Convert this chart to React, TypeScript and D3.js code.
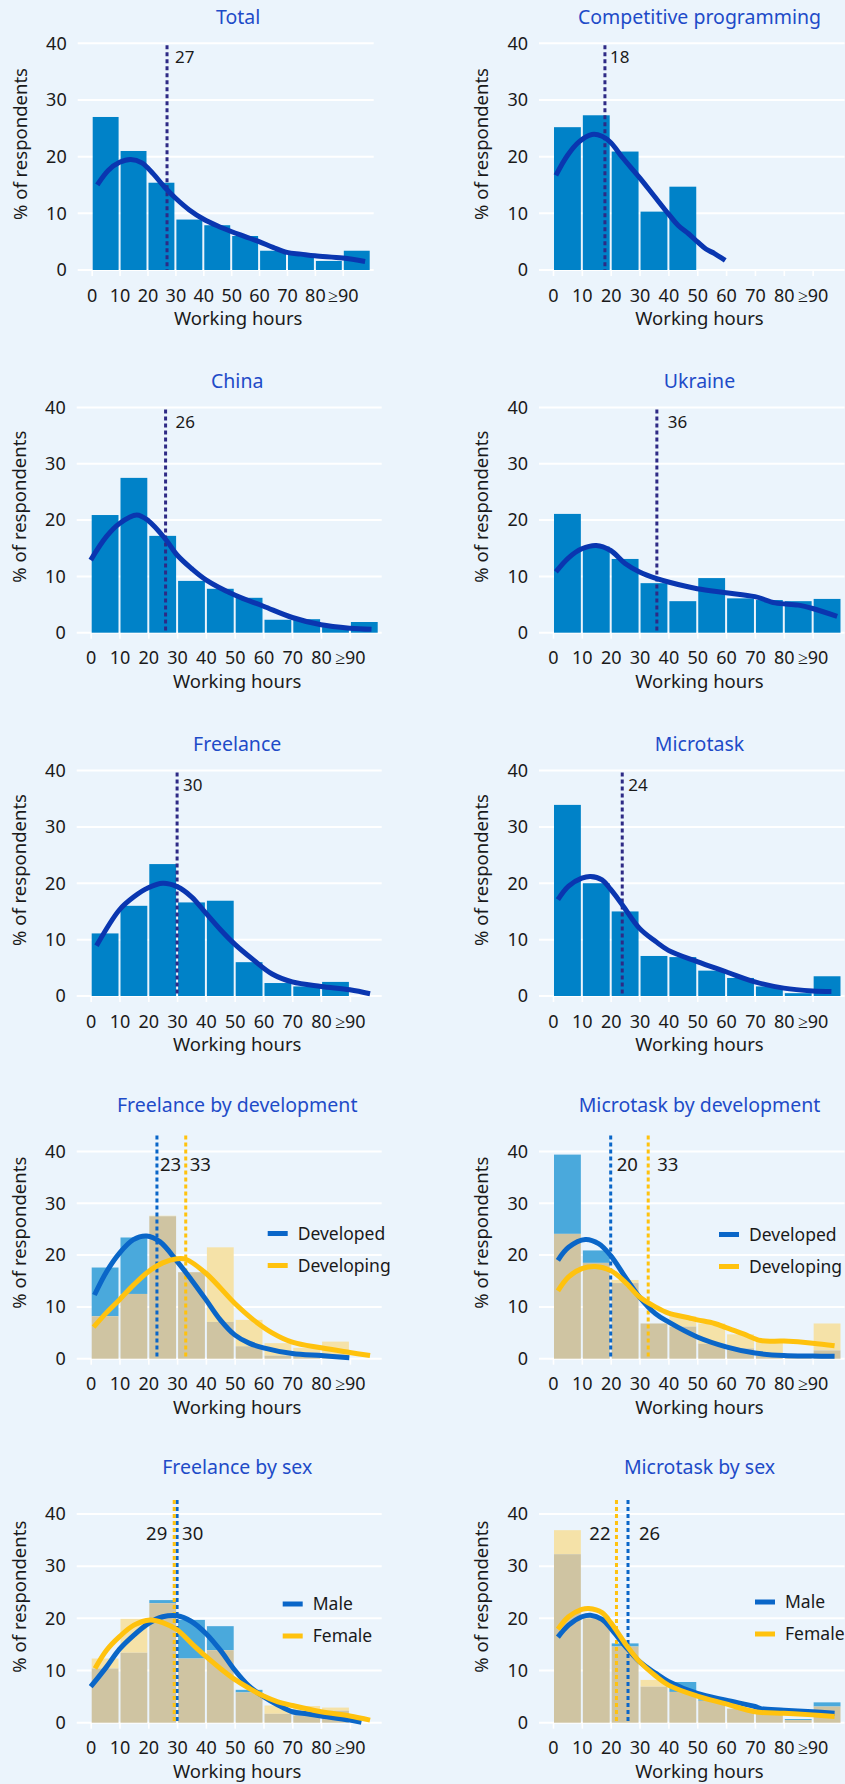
import React, { useEffect, useRef } from "react";
import * as d3 from "d3";

// bins and ticks
const binStarts = [0, 10, 20, 30, 40, 50, 60, 70, 80, 90];
const binLabels = ["0", "10", "20", "30", "40", "50", "60", "70", "80", "≥90"];
const yTicks = [0, 10, 20, 30, 40];

// single-series panels: bar % per bin, smoothed curve [hours, %], median hours
const totalBars = [27, 21, 15.4, 8.9, 7.9, 6.0, 3.4, 2.7, 1.6, 3.4];
const totalCurve = [[2, 15], [6, 17.6], [10, 19.0], [14, 19.5], [18, 18.9], [22, 17.0], [26, 14.7], [30, 12.7], [35, 10.6], [40, 9.0], [45, 7.8], [50, 6.8], [55, 5.9], [60, 5.0], [65, 4.0], [70, 3.1], [75, 2.8], [80, 2.5], [90, 2.1], [98, 1.5]];
const totalMedian = 27;

const compBars = [25.2, 27.3, 20.9, 10.3, 14.7, 0, 0, 0, 0, 0];
const compCurve = [[1, 16.7], [5, 20.2], [9, 22.6], [13.5, 23.9], [17, 23.6], [20, 22.5], [24, 19.9], [30, 16.3], [35, 13.1], [40, 9.9], [43.5, 7.8], [47, 6.4], [50, 5.0], [53, 3.7], [56, 2.9], [59.7, 1.7]];
const compMedian = 18;

const chinaBars = [20.9, 27.5, 17.2, 9.2, 7.8, 6.2, 2.3, 2.4, 1.0, 1.9];
const chinaCurve = [[0, 12.9], [5.5, 17.1], [10, 19.4], [16, 20.9], [20, 19.9], [26, 16.6], [30, 13.8], [35, 11.4], [40, 9.4], [50, 6.7], [60, 4.7], [70, 2.7], [80, 1.4], [90, 0.8], [97.5, 0.6]];
const chinaMedian = 26;

const ukraineBars = [21.1, 15.3, 13.1, 8.8, 5.6, 9.7, 6.1, 5.8, 5.6, 6.0];
const ukraineCurve = [[1, 10.8], [5.4, 13.3], [10, 14.9], [15, 15.5], [20, 14.6], [25, 12.3], [30, 10.8], [36, 9.6], [40, 9.0], [50, 7.8], [60, 7.1], [70, 6.4], [77, 5.3], [85, 4.9], [90, 4.3], [98.5, 2.9]];
const ukraineMedian = 36;

const freelanceBars = [11.1, 16.0, 23.4, 16.6, 16.9, 6.0, 2.3, 1.7, 2.5, 0];
const freelanceCurve = [[2, 8.9], [10, 15.3], [15, 17.6], [20, 19.2], [25, 20.0], [30, 19.4], [35, 17.6], [40, 14.7], [45, 11.8], [50, 9.2], [56.5, 6.4], [63, 3.9], [70, 2.5], [80, 1.7], [90, 1.1], [97, 0.4]];
const freelanceMedian = 30;

const microBars = [33.9, 20.0, 15.0, 7.1, 6.9, 4.5, 3.2, 1.7, 0.5, 3.5];
const microCurve = [[1.7, 17.1], [5.4, 19.5], [10, 20.9], [13, 21.2], [17, 20.6], [20, 18.9], [24, 16.2], [30, 12.0], [35.5, 9.7], [40, 8.1], [50, 6.1], [60, 4.3], [70, 2.5], [80, 1.4], [90, 0.9], [96.5, 0.8]];
const microMedian = 24;

// two-series panels
const devNames = ["Developed", "Developing"];
const sexNames = ["Male", "Female"];

const fdevDeveloped = [17.6, 23.4, 27.5, 16.7, 7.1, 2.4, 0.6, 1.2, 0.8, 0];
const fdevDeveloping = [8.2, 12.5, 27.6, 16.7, 21.5, 7.5, 3.0, 2.1, 3.3, 0];
const fdevDevelopedCurve = [[1.3, 12.3], [5.5, 16.8], [10, 20.4], [14.8, 23.0], [19.4, 23.7], [24, 22.6], [30, 18.8], [35, 15.2], [40, 11.4], [45, 7.5], [50, 4.6], [55, 3.0], [60, 2.1], [70, 1.0], [80, 0.6], [89.8, 0.2]];
const fdevDevelopingCurve = [[1, 6.1], [5.5, 8.9], [10, 11.4], [15, 14.3], [20, 16.8], [25, 18.5], [30, 19.3], [33, 19.2], [40, 16.5], [50, 10.7], [56.5, 7.5], [63, 5.0], [70, 3.2], [80, 2.1], [90, 1.2], [97, 0.6]];
const fdevMedians = [23, 33];

const mdevDeveloped = [39.4, 20.9, 14.6, 6.8, 6.2, 2.9, 2.0, 0.6, 0.4, 1.6];
const mdevDeveloping = [24.1, 18.5, 15.2, 6.8, 8.2, 6.8, 4.7, 3.2, 0.9, 6.8];
const mdevDevelopedCurve = [[1.7, 19.0], [5.4, 21.5], [11.2, 23.0], [15.8, 22.2], [20, 19.9], [25, 15.8], [30, 11.9], [35.5, 8.7], [40, 7.1], [50, 4.2], [60, 2.3], [70, 1.1], [80, 0.6], [90, 0.5], [97.6, 0.45]];
const mdevDevelopingCurve = [[1.7, 13.1], [5.4, 15.8], [10, 17.4], [14.7, 17.8], [20, 17.0], [25, 14.8], [30, 11.9], [35.5, 10.0], [40, 8.8], [47, 7.9], [50, 7.5], [56, 6.8], [60, 6.0], [66, 4.8], [72, 3.5], [80, 3.4], [90, 3.0], [97.6, 2.5]];
const mdevMedians = [20, 33];

const fsexMale = [10.4, 13.4, 23.5, 19.7, 18.5, 6.3, 1.7, 1.4, 2.3, 0];
const fsexFemale = [12.3, 19.9, 22.9, 12.3, 13.9, 5.8, 3.3, 3.2, 2.9, 0];
const fsexMaleCurve = [[0, 6.9], [5.5, 10.7], [10, 14.1], [15, 16.8], [20, 19.0], [25, 20.3], [30, 20.5], [35, 19.4], [40, 17.1], [45, 13.9], [50, 10.1], [55, 7.0], [60, 5.0], [65, 3.4], [70, 2.1], [75, 1.7], [80, 1.3], [90, 0.5], [94, 0.1]];
const fsexFemaleCurve = [[1.5, 10.4], [5.5, 13.9], [10, 16.5], [15, 18.7], [20.6, 19.7], [25, 19.2], [30, 17.8], [35, 15.2], [40, 12.7], [45, 10.4], [50, 8.3], [55, 6.6], [60, 5.1], [65, 4.0], [70, 3.3], [80, 2.1], [90, 1.3], [97, 0.5]];
const fsexMedians = [30, 29];

const msexMale = [32.3, 20.0, 15.2, 6.9, 7.8, 4.5, 2.7, 1.8, 0.7, 3.9];
const msexFemale = [36.9, 20.3, 14.6, 8.2, 5.9, 4.2, 2.7, 1.8, 0.5, 3.1];
const msexMaleCurve = [[1.7, 16.4], [5.4, 18.7], [10, 20.3], [13, 20.6], [17, 19.8], [20, 18.1], [25, 14.7], [30, 11.7], [35.5, 9.5], [40, 7.9], [50, 5.6], [60, 4.3], [70, 3.1], [72, 2.7], [80, 2.4], [90, 2.1], [97.6, 1.8]];
const msexFemaleCurve = [[1.7, 17.9], [5.4, 20.3], [10, 21.7], [12.4, 21.9], [17, 21.1], [20, 19.2], [25, 15.2], [30, 11.7], [35.5, 9.0], [40, 7.2], [50, 5.1], [60, 3.6], [70, 2.1], [80, 1.8], [90, 1.5], [97.6, 1.2]];
const msexMedians = [26, 22];

const FONT = "Noto Sans";
const BG = "#ebf4fc";
const TITLE = "#1e4bc8";
const INK = "#1a1a1a";
const BAR = "#0082c8";
const CURVE = "#0a36b0";
const MEDIAN = "#2e2a85";
const BLUE = "#0a66c8";
const YELLOW = "#ffc20e";
const BLUE_LIGHT = "#4aa9dc";
const YELLOW_LIGHT = "#f5e2a8";
const TAN = "#cfc4a2";

const W = 845;
const H = 1784;

// row layout: y of 40% line and 0% line
const rowTop = [43.3, 407.5, 770.5, 1151.5, 1514];
const rowBase = [270, 632.7, 996, 1358.7, 1722.7];

const App = () => {
  const ref = useRef<SVGSVGElement>(null);

  useEffect(() => {
    document.body.style.margin = "0";
    const svg = d3.select(ref.current);
    svg.selectAll("*").remove();
    svg.append("rect").attr("width", W).attr("height", H).attr("fill", BG);

    const panels: any[] = [
      { title: "Total", row: 0, col: 0, bars: totalBars, curve: totalCurve, median: totalMedian, gap: 8 },
      { title: "Competitive programming", row: 0, col: 1, bars: compBars, curve: compCurve, median: compMedian, gap: 5 },
      { title: "China", row: 1, col: 0, bars: chinaBars, curve: chinaCurve, median: chinaMedian, gap: 10 },
      { title: "Ukraine", row: 1, col: 1, bars: ukraineBars, curve: ukraineCurve, median: ukraineMedian, gap: 11 },
      { title: "Freelance", row: 2, col: 0, bars: freelanceBars, curve: freelanceCurve, median: freelanceMedian, gap: 6 },
      { title: "Microtask", row: 2, col: 1, bars: microBars, curve: microCurve, median: microMedian, gap: 6 },
      {
        title: "Freelance by development", row: 3, col: 0, names: devNames,
        barsA: fdevDeveloped, barsB: fdevDeveloping, curveA: fdevDevelopedCurve, curveB: fdevDevelopingCurve,
        medians: fdevMedians, sides: ["start", "start"], gaps: [3, 4], legend: [177, 82],
      },
      {
        title: "Microtask by development", row: 3, col: 1, names: devNames,
        barsA: mdevDeveloped, barsB: mdevDeveloping, curveA: mdevDevelopedCurve, curveB: mdevDevelopingCurve,
        medians: mdevMedians, sides: ["start", "start"], gaps: [6, 9], legend: [166, 83],
      },
      {
        title: "Freelance by sex", row: 4, col: 0, names: sexNames,
        barsA: fsexMale, barsB: fsexFemale, curveA: fsexMaleCurve, curveB: fsexFemaleCurve,
        medians: fsexMedians, sides: ["start", "end"], gaps: [5, 7], legend: [192, 90],
      },
      {
        title: "Microtask by sex", row: 4, col: 1, names: sexNames,
        barsA: msexMale, barsB: msexFemale, curveA: msexMaleCurve, curveB: msexFemaleCurve,
        medians: msexMedians, sides: ["start", "end"], gaps: [11, 6], legend: [202, 88],
      },
    ];

    panels.forEach((p) => {
      const x0 = p.col === 1 ? 553 : p.row === 0 ? 91.7 : 90.7;
      const pw = p.col === 1 ? 288.5 : p.row === 0 ? 279 : 288;
      const yTop = rowTop[p.row];
      const yBase = rowBase[p.row];
      const dual = !!p.barsA;
      const g = svg.append("g").attr("font-family", FONT);

      const x = d3.scaleLinear().domain([0, 100]).range([x0, x0 + pw]);
      const y = d3.scaleLinear().domain([0, 40]).range([yBase, yTop]);
      const cx = x0 + 146.5;

      // title
      g.append("text")
        .attr("x", cx)
        .attr("y", yTop - (dual ? 40 : 19.5))
        .attr("text-anchor", "middle")
        .attr("fill", TITLE)
        .attr("font-size", 19.5)
        .text(p.title);

      // grid
      g.append("g")
        .selectAll("line")
        .data(yTicks)
        .enter()
        .append("line")
        .attr("x1", x0 - 14)
        .attr("x2", Math.min(x0 + pw + 3, W))
        .attr("y1", (d) => y(d))
        .attr("y2", (d) => y(d))
        .attr("stroke", "#fff")
        .attr("stroke-width", 2);

      // y axis
      const ya = g
        .append("g")
        .attr("transform", `translate(${x0 - 14},0)`)
        .call(d3.axisLeft(y).tickValues(yTicks).tickSize(0).tickPadding(11));
      ya.select(".domain").remove();
      ya.attr("font-family", FONT).attr("font-size", 18).attr("color", INK);

      // x axis
      const xa = g
        .append("g")
        .attr("transform", `translate(0,${yBase})`)
        .call(
          d3
            .axisBottom(x)
            .tickValues(binStarts)
            // @ts-ignore
            .tickFormat((d, i) => binLabels[i])
            .tickSize(6)
            .tickPadding(13)
        );
      xa.select(".domain").remove();
      xa.attr("font-family", FONT).attr("font-size", 18).attr("color", INK);
      xa.selectAll("line").attr("stroke", "#fff").attr("stroke-width", 1.6);

      // axis titles
      g.append("text")
        .attr("x", cx)
        .attr("y", yBase + 55)
        .attr("text-anchor", "middle")
        .attr("fill", INK)
        .attr("font-size", 18.5)
        .text("Working hours");
      g.append("text")
        .attr("transform", `translate(${x0 - 71},${yBase - 126}) rotate(-90)`)
        .attr("text-anchor", "middle")
        .attr("dy", "0.35em")
        .attr("fill", INK)
        .attr("font-size", 18.5)
        .text("% of respondents");

      const bx = (i: number) => x(binStarts[i]) + 1;
      const bw = (i: number) => x(binStarts[i] + 10) - x(binStarts[i]) - 2;
      const line = d3
        .line()
        .x((d) => x(d[0]))
        .y((d) => y(d[1]))
        .curve(d3.curveCatmullRom.alpha(0.5));

      if (!dual) {
        const bins = (p.bars as number[]).map((v, i) => ({ i, v })).filter((d) => d.v > 0);
        g.append("g")
          .selectAll("rect")
          .data(bins)
          .enter()
          .append("rect")
          .attr("x", (d) => bx(d.i))
          .attr("width", (d) => bw(d.i))
          .attr("y", (d) => y(d.v))
          .attr("height", (d) => yBase - y(d.v))
          .attr("fill", BAR);

        g.append("line")
          .attr("x1", x(p.median))
          .attr("x2", x(p.median))
          .attr("y1", yTop + 2)
          .attr("y2", yBase)
          .attr("stroke", MEDIAN)
          .attr("stroke-width", 3)
          .attr("stroke-dasharray", "4,3");
        g.append("text")
          .attr("x", x(p.median) + p.gap)
          .attr("y", yTop + 20)
          .attr("fill", INK)
          .attr("font-size", 17)
          .text(p.median);

        g.append("path")
          .datum(p.curve)
          .attr("fill", "none")
          .attr("stroke", CURVE)
          .attr("stroke-width", 5)
          // @ts-ignore
          .attr("d", line);
        return;
      }

      // overlapping bars: shared part tan, excess in the lighter series colour
      const bins = binStarts.map((s, i) => ({ i, a: p.barsA[i], b: p.barsB[i] }));
      const bg = g.append("g");
      bins.forEach((d) => {
        const lo = Math.min(d.a, d.b);
        const hi = Math.max(d.a, d.b);
        if (hi <= 0) return;
        bg.append("rect")
          .attr("x", bx(d.i))
          .attr("width", bw(d.i))
          .attr("y", y(hi))
          .attr("height", y(lo) - y(hi))
          .attr("fill", d.a > d.b ? BLUE_LIGHT : YELLOW_LIGHT);
        if (lo > 0)
          bg.append("rect")
            .attr("x", bx(d.i))
            .attr("width", bw(d.i))
            .attr("y", y(lo))
            .attr("height", yBase - y(lo))
            .attr("fill", TAN);
      });

      const colors = [BLUE, YELLOW];
      const medTop = yTop - (p.row === 3 ? 16 : 14);
      const labY = yTop + (p.row === 3 ? 19 : 26);
      (p.medians as number[]).forEach((m, k) => {
        g.append("line")
          .attr("x1", x(m))
          .attr("x2", x(m))
          .attr("y1", medTop)
          .attr("y2", yBase)
          .attr("stroke", colors[k])
          .attr("stroke-width", 3)
          .attr("stroke-dasharray", "4,3");
        g.append("text")
          .attr("x", x(m) + (p.sides[k] === "start" ? p.gaps[k] : -p.gaps[k]))
          .attr("y", labY)
          .attr("text-anchor", p.sides[k])
          .attr("fill", INK)
          .attr("font-size", 18.5)
          .text(m);
      });

      [p.curveA, p.curveB].forEach((c, k) => {
        g.append("path")
          .datum(c)
          .attr("fill", "none")
          .attr("stroke", colors[k])
          .attr("stroke-width", 5)
          // @ts-ignore
          .attr("d", line);
      });

      // legend
      const lx = x0 + p.legend[0];
      const ly = yTop + p.legend[1];
      (p.names as string[]).forEach((n, k) => {
        g.append("line")
          .attr("x1", lx)
          .attr("x2", lx + 20)
          .attr("y1", ly + k * 32)
          .attr("y2", ly + k * 32)
          .attr("stroke", colors[k])
          .attr("stroke-width", 5);
        g.append("text")
          .attr("x", lx + 30)
          .attr("y", ly + k * 32)
          .attr("dy", "0.35em")
          .attr("fill", INK)
          .attr("font-size", 17.5)
          .text(n);
      });
    });
  }, []);

  return <svg ref={ref} width={W} height={H} style={{ display: "block" }} />;
};

export default App;
